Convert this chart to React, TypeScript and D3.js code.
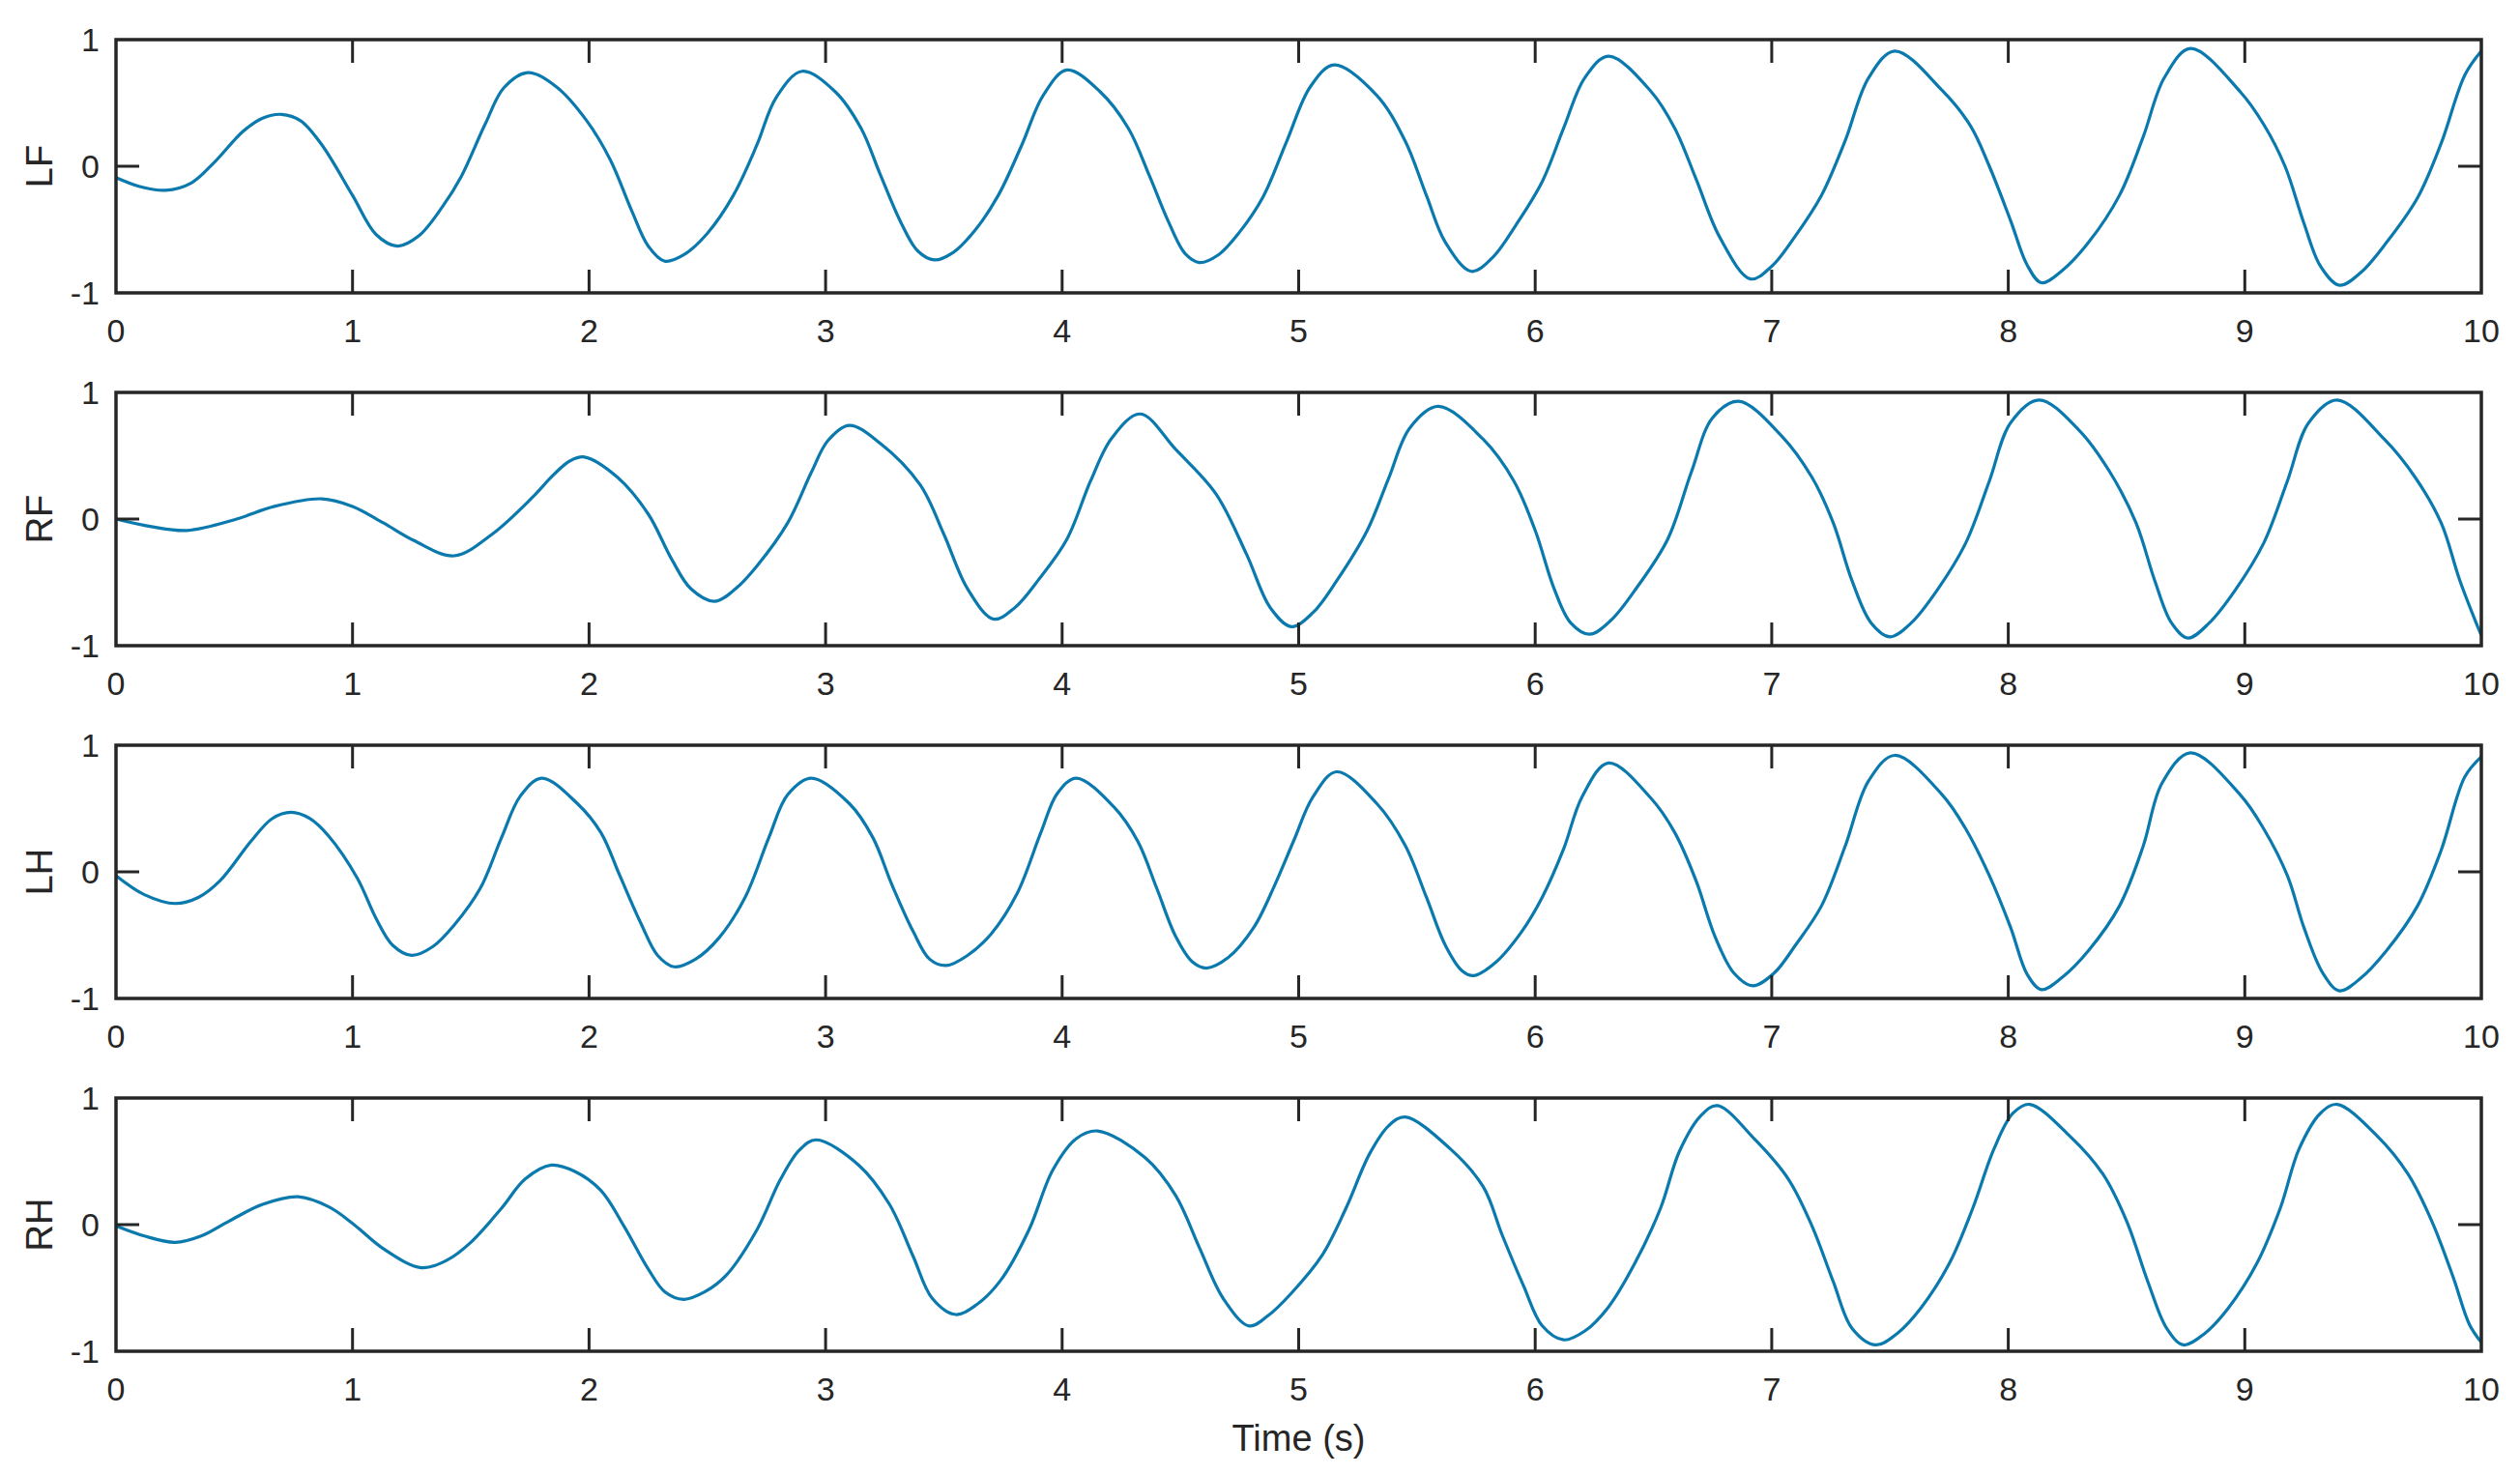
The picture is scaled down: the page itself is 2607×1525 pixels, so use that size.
import React from 'react';
import * as d3 from 'd3';

type Pt = [number, number];

const PANEL_LABELS = ['LF', 'RF', 'LH', 'RH'];
const X_TICKS = [0, 1, 2, 3, 4, 5, 6, 7, 8, 9, 10];
const Y_TICKS = [-1, 0, 1];
const X_LABEL = 'Time (s)';

const LF: Pt[] = [[0,-0.09],[0.10,-0.16],[0.21,-0.19],[0.32,-0.13],[0.41,0.02],[0.54,0.28],[0.62,0.38],[0.70,0.41],[0.78,0.36],[0.87,0.17],[1.00,-0.23],[1.10,-0.54],[1.19,-0.63],[1.28,-0.55],[1.38,-0.32],[1.46,-0.08],[1.56,0.33],[1.64,0.62],[1.74,0.74],[1.86,0.63],[1.99,0.36],[2.09,0.05],[2.18,-0.35],[2.25,-0.63],[2.32,-0.75],[2.40,-0.70],[2.50,-0.53],[2.61,-0.23],[2.71,0.17],[2.79,0.54],[2.90,0.75],[3.04,0.59],[3.15,0.30],[3.23,-0.06],[3.32,-0.45],[3.39,-0.67],[3.46,-0.74],[3.54,-0.68],[3.63,-0.51],[3.73,-0.23],[3.83,0.17],[3.92,0.56],[4.02,0.76],[4.16,0.59],[4.28,0.30],[4.37,-0.08],[4.45,-0.44],[4.52,-0.69],[4.58,-0.76],[4.66,-0.70],[4.75,-0.52],[4.85,-0.24],[4.95,0.20],[5.05,0.63],[5.15,0.80],[5.33,0.56],[5.45,0.20],[5.54,-0.23],[5.62,-0.60],[5.73,-0.83],[5.82,-0.72],[5.92,-0.46],[6.03,-0.12],[6.12,0.30],[6.21,0.70],[6.31,0.87],[6.49,0.59],[6.59,0.30],[6.68,-0.10],[6.78,-0.56],[6.91,-0.89],[7.00,-0.79],[7.10,-0.55],[7.21,-0.23],[7.31,0.20],[7.41,0.70],[7.52,0.91],[7.72,0.60],[7.84,0.32],[7.92,0.0],[8.01,-0.43],[8.08,-0.78],[8.14,-0.92],[8.23,-0.82],[8.34,-0.60],[8.47,-0.23],[8.57,0.23],[8.66,0.70],[8.77,0.93],[8.98,0.59],[9.08,0.33],[9.17,0.0],[9.25,-0.45],[9.32,-0.79],[9.40,-0.94],[9.49,-0.84],[9.60,-0.60],[9.73,-0.25],[9.83,0.18],[9.93,0.72],[10,0.91]];

const RF: Pt[] = [[0,0],[0.15,-0.06],[0.30,-0.09],[0.51,0.0],[0.67,0.10],[0.87,0.16],[1.00,0.10],[1.13,-0.03],[1.26,-0.17],[1.43,-0.29],[1.59,-0.12],[1.76,0.17],[1.85,0.35],[1.92,0.46],[1.98,0.49],[2.12,0.33],[2.25,0.04],[2.35,-0.32],[2.43,-0.55],[2.53,-0.65],[2.62,-0.55],[2.71,-0.37],[2.84,-0.03],[2.94,0.37],[3.01,0.62],[3.10,0.74],[3.23,0.60],[3.40,0.27],[3.50,-0.12],[3.60,-0.55],[3.71,-0.79],[3.80,-0.70],[3.90,-0.48],[4.02,-0.16],[4.12,0.30],[4.21,0.64],[4.33,0.83],[4.48,0.55],[4.65,0.20],[4.78,-0.28],[4.88,-0.70],[4.97,-0.85],[5.06,-0.74],[5.16,-0.49],[5.29,-0.09],[5.38,0.32],[5.47,0.72],[5.59,0.89],[5.78,0.63],[5.91,0.30],[6.00,-0.09],[6.08,-0.55],[6.15,-0.82],[6.23,-0.91],[6.32,-0.80],[6.43,-0.54],[6.56,-0.16],[6.66,0.37],[6.75,0.80],[6.86,0.93],[7.04,0.66],[7.17,0.33],[7.26,-0.03],[7.34,-0.49],[7.42,-0.82],[7.50,-0.93],[7.59,-0.82],[7.70,-0.56],[7.82,-0.19],[7.92,0.30],[8.01,0.76],[8.13,0.94],[8.30,0.70],[8.43,0.37],[8.54,-0.03],[8.62,-0.49],[8.69,-0.82],[8.76,-0.94],[8.85,-0.82],[8.96,-0.56],[9.08,-0.19],[9.18,0.30],[9.27,0.76],[9.39,0.94],[9.59,0.63],[9.72,0.33],[9.83,-0.03],[9.91,-0.49],[10,-0.92]];

const LH: Pt[] = [[0,-0.03],[0.12,-0.18],[0.25,-0.25],[0.35,-0.20],[0.44,-0.07],[0.57,0.24],[0.66,0.42],[0.74,0.47],[0.82,0.42],[0.90,0.28],[1.02,-0.05],[1.10,-0.37],[1.17,-0.58],[1.25,-0.66],[1.34,-0.59],[1.43,-0.42],[1.54,-0.13],[1.63,0.27],[1.71,0.60],[1.80,0.74],[1.95,0.54],[2.05,0.31],[2.13,-0.03],[2.22,-0.41],[2.29,-0.66],[2.36,-0.75],[2.45,-0.69],[2.55,-0.52],[2.66,-0.20],[2.76,0.27],[2.84,0.61],[2.94,0.74],[3.10,0.54],[3.20,0.27],[3.28,-0.10],[3.37,-0.47],[3.44,-0.69],[3.51,-0.74],[3.60,-0.66],[3.70,-0.49],[3.81,-0.17],[3.91,0.31],[3.98,0.62],[4.06,0.74],[4.22,0.51],[4.32,0.24],[4.40,-0.13],[4.48,-0.51],[4.55,-0.71],[4.61,-0.76],[4.70,-0.68],[4.81,-0.44],[4.90,-0.10],[4.98,0.25],[5.06,0.59],[5.16,0.79],[5.33,0.54],[5.45,0.21],[5.54,-0.20],[5.62,-0.58],[5.69,-0.78],[5.74,-0.82],[5.83,-0.72],[5.94,-0.48],[6.03,-0.20],[6.12,0.18],[6.20,0.60],[6.31,0.86],[6.49,0.58],[6.59,0.31],[6.68,-0.07],[6.76,-0.51],[6.84,-0.80],[6.92,-0.90],[7.01,-0.80],[7.10,-0.58],[7.21,-0.27],[7.31,0.20],[7.41,0.72],[7.52,0.92],[7.72,0.61],[7.82,0.34],[7.92,-0.03],[8.01,-0.44],[8.08,-0.81],[8.14,-0.93],[8.23,-0.83],[8.34,-0.62],[8.47,-0.27],[8.57,0.20],[8.65,0.70],[8.77,0.94],[8.98,0.61],[9.08,0.34],[9.18,-0.03],[9.25,-0.44],[9.33,-0.80],[9.40,-0.94],[9.49,-0.84],[9.60,-0.62],[9.73,-0.27],[9.83,0.17],[9.93,0.75],[10,0.91]];

const RH: Pt[] = [[0,-0.01],[0.12,-0.09],[0.25,-0.14],[0.36,-0.09],[0.48,0.03],[0.62,0.16],[0.77,0.22],[0.90,0.14],[1.0,0.01],[1.13,-0.19],[1.29,-0.34],[1.40,-0.28],[1.50,-0.14],[1.63,0.13],[1.73,0.36],[1.84,0.47],[1.94,0.42],[2.05,0.27],[2.15,-0.02],[2.25,-0.35],[2.32,-0.53],[2.40,-0.59],[2.49,-0.53],[2.58,-0.40],[2.71,-0.04],[2.81,0.36],[2.89,0.59],[2.96,0.67],[3.14,0.47],[3.27,0.16],[3.37,-0.25],[3.45,-0.58],[3.55,-0.71],[3.64,-0.63],[3.74,-0.44],[3.86,-0.04],[3.96,0.43],[4.06,0.68],[4.15,0.74],[4.35,0.53],[4.48,0.23],[4.58,-0.18],[4.68,-0.58],[4.79,-0.80],[4.87,-0.72],[4.97,-0.54],[5.10,-0.24],[5.20,0.13],[5.30,0.56],[5.38,0.78],[5.45,0.85],[5.64,0.60],[5.78,0.30],[5.86,-0.08],[5.95,-0.48],[6.03,-0.80],[6.12,-0.91],[6.21,-0.84],[6.31,-0.65],[6.42,-0.31],[6.53,0.13],[6.61,0.58],[6.70,0.86],[6.77,0.94],[6.93,0.67],[7.07,0.36],[7.17,-0.01],[7.26,-0.45],[7.34,-0.82],[7.44,-0.95],[7.53,-0.86],[7.63,-0.66],[7.75,-0.31],[7.85,0.13],[7.94,0.60],[8.02,0.88],[8.09,0.95],[8.26,0.70],[8.40,0.40],[8.50,0.03],[8.59,-0.45],[8.67,-0.82],[8.74,-0.95],[8.83,-0.86],[8.93,-0.66],[9.05,-0.31],[9.15,0.13],[9.23,0.60],[9.32,0.88],[9.39,0.95],[9.56,0.70],[9.69,0.40],[9.79,0.03],[9.88,-0.41],[9.95,-0.79],[10,-0.93]];

const SERIES: Pt[][] = [LF, RF, LH, RH];

const W = 2607;
const H = 1525;
const LEFT = 120;
const RIGHT = 2567;
const PANEL_H = 262;
const PANEL_STEP = 365;
const FIRST_TOP = 41;
const AXIS_COLOR = '#262626';
const LINE_COLOR = '#0a79ad';
const FONT = '"Liberation Sans", Arial, Helvetica, sans-serif';
const TICK_FS = 34;
const LABEL_FS = 38;
const TICK_LEN = 24;

export default function App() {
  const x = d3.scaleLinear().domain([0, 10]).range([LEFT, RIGHT]);
  return (
    <svg
      width={W}
      height={H}
      viewBox={`0 0 ${W} ${H}`}
      style={{ position: 'absolute', left: 0, top: 0, background: '#fff', display: 'block' }}
    >
      <rect x={0} y={0} width={W} height={H} fill="#fff" />
      {SERIES.map((data, i) => {
        const top = FIRST_TOP + i * PANEL_STEP;
        const bottom = top + PANEL_H;
        const y = d3.scaleLinear().domain([-1, 1]).range([bottom, top]);
        const line = d3
          .line<Pt>()
          .x((d) => x(d[0]))
          .y((d) => y(d[1]))
          .curve(d3.curveCatmullRom.alpha(0.5));
        return (
          <g key={PANEL_LABELS[i]}>
            <path d={line(data) || ''} fill="none" stroke={LINE_COLOR} strokeWidth={3.2} strokeLinejoin="round" />
            {X_TICKS.filter((t) => t > 0 && t < 10).map((t) => (
              <g key={'xt' + t}>
                <line x1={x(t)} x2={x(t)} y1={bottom} y2={bottom - TICK_LEN} stroke={AXIS_COLOR} strokeWidth={3} />
                <line x1={x(t)} x2={x(t)} y1={top} y2={top + TICK_LEN} stroke={AXIS_COLOR} strokeWidth={3} />
              </g>
            ))}
            {Y_TICKS.filter((v) => v > -1 && v < 1).map((v) => (
              <g key={'yt' + v}>
                <line x1={LEFT} x2={LEFT + TICK_LEN} y1={y(v)} y2={y(v)} stroke={AXIS_COLOR} strokeWidth={3} />
                <line x1={RIGHT} x2={RIGHT - TICK_LEN} y1={y(v)} y2={y(v)} stroke={AXIS_COLOR} strokeWidth={3} />
              </g>
            ))}
            <rect x={LEFT} y={top} width={RIGHT - LEFT} height={PANEL_H} fill="none" stroke={AXIS_COLOR} strokeWidth={3.5} />
            {X_TICKS.map((t) => (
              <text
                key={'xl' + t}
                x={x(t)}
                y={bottom + 51}
                textAnchor="middle"
                fontFamily={FONT}
                fontSize={TICK_FS}
                fill={AXIS_COLOR}
              >
                {t}
              </text>
            ))}
            {Y_TICKS.map((v) => (
              <text
                key={'yl' + v}
                x={LEFT - 17}
                y={y(v)}
                dy="0.36em"
                textAnchor="end"
                fontFamily={FONT}
                fontSize={TICK_FS}
                fill={AXIS_COLOR}
              >
                {v}
              </text>
            ))}
            <text
              transform={`translate(${54},${(top + bottom) / 2}) rotate(-90)`}
              textAnchor="middle"
              fontFamily={FONT}
              fontSize={LABEL_FS}
              fill={AXIS_COLOR}
            >
              {PANEL_LABELS[i]}
            </text>
          </g>
        );
      })}
      <text
        x={(LEFT + RIGHT) / 2}
        y={1501}
        textAnchor="middle"
        fontFamily={FONT}
        fontSize={LABEL_FS}
        fill={AXIS_COLOR}
      >
        {X_LABEL}
      </text>
    </svg>
  );
}
